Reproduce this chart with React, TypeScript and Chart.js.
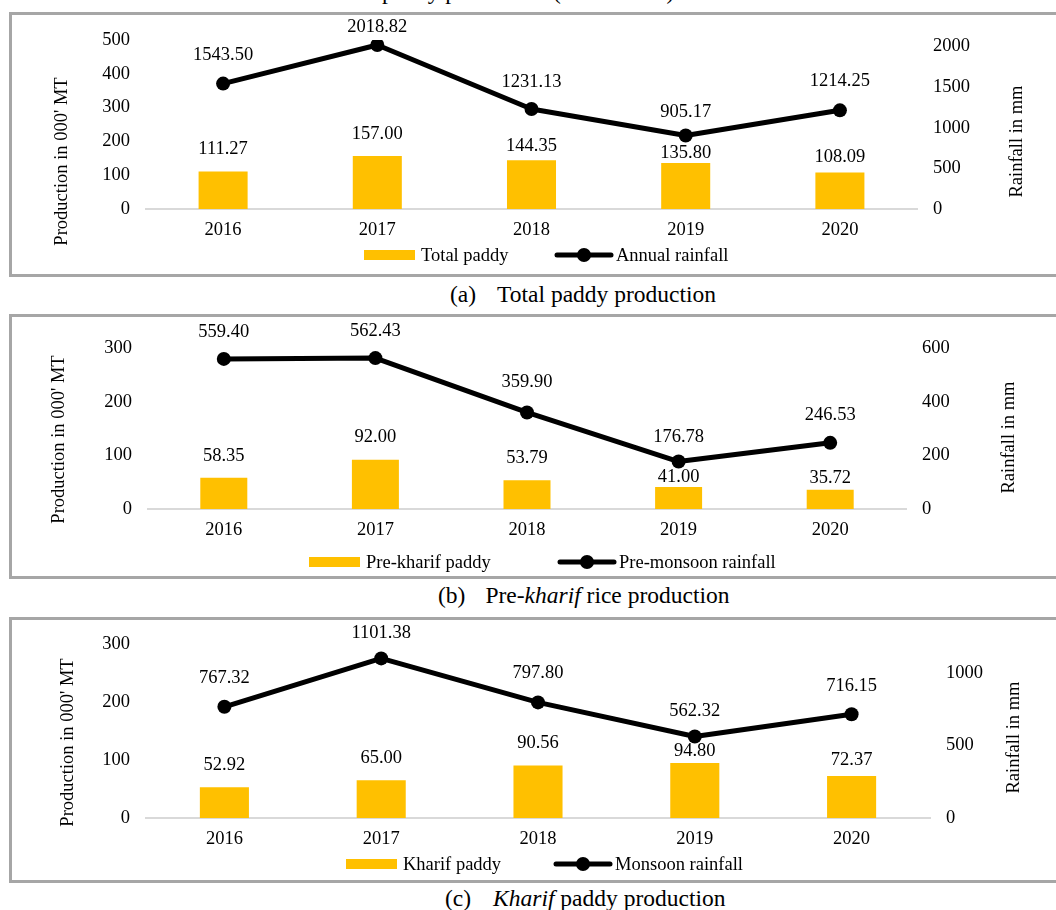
import React, { useEffect, useRef } from "react";
import { Chart, registerables } from "chart.js";

Chart.register(...registerables);

// ---------- data ----------
const YEARS = ["2016", "2017", "2018", "2019", "2020"];

const TOTAL_PADDY = [111.27, 157.0, 144.35, 135.8, 108.09];
const ANNUAL_RAINFALL = [1543.5, 2018.82, 1231.13, 905.17, 1214.25];

const PRE_KHARIF_PADDY = [58.35, 92.0, 53.79, 41.0, 35.72];
const PRE_MONSOON_RAINFALL = [559.4, 562.43, 359.9, 176.78, 246.53];

const KHARIF_PADDY = [52.92, 65.0, 90.56, 94.8, 72.37];
const MONSOON_RAINFALL = [767.32, 1101.38, 797.8, 562.32, 716.15];

const PROD_TICKS_A = [0, 100, 200, 300, 400, 500];
const RAIN_TICKS_A = [0, 500, 1000, 1500, 2000];
const PROD_TICKS_B = [0, 100, 200, 300];
const RAIN_TICKS_B = [0, 200, 400, 600];
const PROD_TICKS_C = [0, 100, 200, 300];
const RAIN_TICKS_C = [0, 500, 1000];

// ---------- style ----------
const FONT = "'Liberation Serif', 'Times New Roman', Times, serif";
const FS = 18.5;
const BAR = "#FFC000";
const TXT = "#000000";
const W = 1056;

type PanelCfg = {
  top: number;
  height: number;
  padTop: number;
  bottomH: number;
  plotLeft: number;
  plotRight: number;
  barPct: number;
  prod: number[];
  rain: number[];
  prodLabel: string;
  rainLabel: string;
  prodMax: number;
  rainMax: number;
  prodTicks: number[];
  rainTicks: number[];
  barLabelOff: number[];
  lineLabelOff: number[];
  leftTitle: [number, number];
  rightTitle: [number, number];
  legendY: number;
  legendX: [number, number];
};

const PANELS: PanelCfg[] = [
  {
    top: 12, height: 265, padTop: 28, bottomH: 68, plotLeft: 146, plotRight: 917, barPct: 0.318,
    prod: TOTAL_PADDY, rain: ANNUAL_RAINFALL, prodLabel: "Total paddy", rainLabel: "Annual rainfall",
    prodMax: 500, rainMax: 2080, prodTicks: PROD_TICKS_A, rainTicks: RAIN_TICKS_A,
    barLabelOff: [22, 22, 14, 10, 15], lineLabelOff: [28, 18, 27, 23, 29],
    leftTitle: [62, 149.5], rightTitle: [1017, 129.5], legendY: 243, legendX: [364, 557],
  },
  {
    top: 314, height: 265, padTop: 34, bottomH: 70, plotLeft: 148, plotRight: 906, barPct: 0.31,
    prod: PRE_KHARIF_PADDY, rain: PRE_MONSOON_RAINFALL, prodLabel: "Pre-kharif paddy", rainLabel: "Pre-monsoon rainfall",
    prodMax: 300, rainMax: 600, prodTicks: PROD_TICKS_B, rainTicks: RAIN_TICKS_B,
    barLabelOff: [22, 22, 22, 10, 12], lineLabelOff: [27, 27, 30, 24, 28],
    leftTitle: [59.5, 125.5], rightTitle: [1009, 123.5], legendY: 248, legendX: [309, 560],
  },
  {
    top: 617, height: 266, padTop: 27, bottomH: 65, plotLeft: 146, plotRight: 930, barPct: 0.313,
    prod: KHARIF_PADDY, rain: MONSOON_RAINFALL, prodLabel: "Kharif paddy", rainLabel: "Monsoon rainfall",
    prodMax: 300, rainMax: 1200, prodTicks: PROD_TICKS_C, rainTicks: RAIN_TICKS_C,
    barLabelOff: [22, 22, 22, 12, 16], lineLabelOff: [29, 25, 29, 25, 28],
    leftTitle: [68, 125.5], rightTitle: [1014, 120.5], legendY: 247, legendX: [346, 556],
  },
];

function Panel({ cfg }: { cfg: PanelCfg }) {
  const ref = useRef<HTMLCanvasElement | null>(null);

  useEffect(() => {
    if (!ref.current) return;
    const font = { family: FONT, size: FS };

    const decorate = {
      id: "decorate",
      afterDatasetsDraw(chart: any) {
        const ctx: CanvasRenderingContext2D = chart.ctx;
        ctx.save();
        ctx.font = `${FS}px ${FONT}`;
        ctx.fillStyle = TXT;
        ctx.textAlign = "center";
        ctx.textBaseline = "middle";
        // data labels
        chart.data.datasets.forEach((ds: any, i: number) => {
          const meta = chart.getDatasetMeta(i);
          const offs: number[] = ds.type === "line" ? cfg.lineLabelOff : cfg.barLabelOff;
          meta.data.forEach((el: any, j: number) => {
            ctx.fillText(Number(ds.data[j]).toFixed(2), el.x, el.y - offs[j]);
          });
        });
        // axis titles
        ctx.save();
        ctx.translate(cfg.leftTitle[0], cfg.leftTitle[1]);
        ctx.rotate(-Math.PI / 2);
        ctx.fillText("Production in 000' MT", 0, 0);
        ctx.restore();
        ctx.save();
        ctx.translate(cfg.rightTitle[0], cfg.rightTitle[1]);
        ctx.rotate(-Math.PI / 2);
        ctx.fillText("Rainfall in mm", 0, 0);
        ctx.restore();
        // legend
        const ly = cfg.legendY;
        ctx.textAlign = "left";
        let x = cfg.legendX[0];
        ctx.fillStyle = BAR;
        ctx.fillRect(x, ly - 5, 51, 10);
        ctx.fillStyle = TXT;
        ctx.fillText(cfg.prodLabel, x + 57, ly + 1);
        x = cfg.legendX[1];
        ctx.strokeStyle = "#000";
        ctx.lineWidth = 5;
        ctx.lineCap = "round";
        ctx.beginPath();
        ctx.moveTo(x, ly);
        ctx.lineTo(x + 54, ly);
        ctx.stroke();
        ctx.beginPath();
        ctx.arc(x + 27, ly, 7, 0, Math.PI * 2);
        ctx.fillStyle = "#000";
        ctx.fill();
        ctx.fillStyle = TXT;
        ctx.fillText(cfg.rainLabel, x + 59, ly + 1);
        ctx.restore();
      },
    };

    const chart = new Chart(ref.current, {
      type: "bar",
      data: {
        labels: YEARS,
        datasets: [
          {
            type: "line",
            label: cfg.rainLabel,
            data: cfg.rain,
            yAxisID: "y1",
            borderColor: "#000",
            borderWidth: 5,
            pointRadius: 7,
            pointBackgroundColor: "#000",
            pointBorderWidth: 0,
            borderJoinStyle: "round",
            order: 0,
          } as any,
          {
            type: "bar",
            label: cfg.prodLabel,
            data: cfg.prod,
            yAxisID: "y",
            backgroundColor: BAR,
            borderWidth: 0,
            barPercentage: cfg.barPct,
            categoryPercentage: 1,
            order: 1,
          } as any,
        ],
      },
      options: {
        animation: false,
        responsive: false,
        devicePixelRatio: 1,
        layout: { padding: { top: cfg.padTop, left: 0, right: 0, bottom: 0 } },
        plugins: {
          legend: { display: false },
          tooltip: { enabled: false },
          title: { display: false },
        },
        scales: {
          x: {
            grid: { display: false, drawTicks: false },
            border: { display: true, color: "#D9D9D9", width: 2 },
            ticks: { font, color: TXT, padding: 10, maxRotation: 0 },
            afterFit: (s: any) => {
              s.height = cfg.bottomH;
            },
          },
          y: {
            position: "left",
            min: 0,
            max: cfg.prodMax,
            grid: { display: false, drawTicks: false },
            border: { display: false },
            ticks: { font, color: TXT, padding: 16, callback: (v: any) => String(v) },
            afterBuildTicks: (s: any) => {
              s.ticks = cfg.prodTicks.map((v) => ({ value: v }));
            },
            afterFit: (s: any) => {
              s.width = cfg.plotLeft;
            },
          },
          y1: {
            position: "right",
            min: 0,
            max: cfg.rainMax,
            grid: { display: false, drawTicks: false },
            border: { display: false },
            ticks: { font, color: TXT, padding: 16, callback: (v: any) => String(v) },
            afterBuildTicks: (s: any) => {
              s.ticks = cfg.rainTicks.map((v) => ({ value: v }));
            },
            afterFit: (s: any) => {
              s.width = W - cfg.plotRight;
            },
          },
        },
      } as any,
      plugins: [decorate],
    });
    return () => chart.destroy();
  }, [cfg]);

  return (
    <>
      <canvas
        ref={ref}
        width={W}
        height={cfg.height}
        style={{ position: "absolute", left: 0, top: cfg.top, width: W, height: cfg.height, display: "block" }}
      />
      <div
        style={{
          position: "absolute",
          left: 9,
          top: cfg.top,
          width: 1100,
          height: cfg.height,
          boxSizing: "border-box",
          border: "3px solid #A6A6A6",
          pointerEvents: "none",
        }}
      />
    </>
  );
}

const capStyle = (left: number, top: number): React.CSSProperties => ({
  position: "absolute",
  left,
  top,
  fontFamily: FONT,
  fontSize: 23.5,
  lineHeight: "23.5px",
  color: "#000",
  whiteSpace: "nowrap",
});

export default function App() {
  return (
    <div
      style={{
        position: "fixed",
        left: 0,
        top: 0,
        width: W,
        height: 910,
        overflow: "hidden",
        background: "#fff",
      }}
    >
      <div style={capStyle(382, -20)}>paddy production (2016–2020)</div>
      {PANELS.map((p, i) => (
        <Panel key={i} cfg={p} />
      ))}
      <div style={capStyle(450, 283)}>
        <span>(a)</span>
        <span style={{ marginLeft: 21 }}>Total paddy production</span>
      </div>
      <div style={capStyle(438, 584)}>
        <span>(b)</span>
        <span style={{ marginLeft: 20 }}>
          Pre-<i>kharif</i> rice production
        </span>
      </div>
      <div style={capStyle(445, 887)}>
        <span>(c)</span>
        <span style={{ marginLeft: 22 }}>
          <i>Kharif</i> paddy production
        </span>
      </div>
    </div>
  );
}
